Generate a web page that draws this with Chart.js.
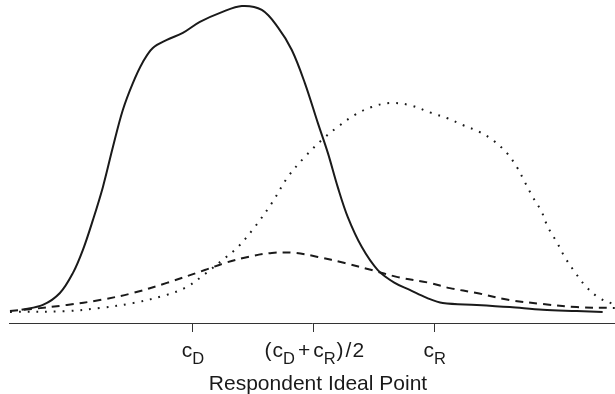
<!DOCTYPE html>
<html>
<head>
<meta charset="utf-8">
<script src="https://cdn.jsdelivr.net/npm/chart.js@4/dist/chart.umd.min.js"></script>
<style>
  body { margin: 0; background: #fff; }
  #densChart { display: block; }
</style>
</head>
<body>
<canvas id="densChart" width="615" height="394"></canvas>
<script>
// x in units where c_D = -1, midpoint = 0, c_R = 1
const solidX = [-2.416,-2.240,-2.099,-1.992,-1.909,-1.826,-1.744,-1.661,-1.579,-1.496,-1.413,-1.331,-1.215,-1.083,-0.942,-0.760,-0.595,-0.430,-0.298,-0.182,-0.074,0.033,0.116,0.198,0.281,0.397,0.529,0.669,0.793,0.934,1.066,1.347,1.620,1.893,2.174,2.388];
const solidY = [0.007,0.023,0.062,0.127,0.203,0.301,0.408,0.539,0.660,0.748,0.817,0.863,0.889,0.912,0.948,0.980,1.000,0.987,0.931,0.856,0.748,0.618,0.520,0.408,0.310,0.212,0.137,0.095,0.072,0.046,0.029,0.023,0.016,0.007,0.003,0.0];

const dashedX = [-2.512,-2.322,-2.041,-1.769,-1.496,-1.215,-0.901,-0.736,-0.545,-0.347,-0.157,0.033,0.256,0.479,0.694,0.959,1.124,1.347,1.620,1.893,2.174,2.488];
const dashedY = [0.003,0.010,0.023,0.039,0.062,0.095,0.137,0.160,0.180,0.193,0.193,0.180,0.160,0.137,0.114,0.095,0.078,0.062,0.039,0.026,0.016,0.013];

const dottedX = [-2.512,-2.041,-1.769,-1.496,-1.215,-1.050,-0.901,-0.736,-0.628,-0.488,-0.347,-0.215,-0.074,0.066,0.198,0.339,0.479,0.628,0.793,0.975,1.099,1.231,1.372,1.479,1.595,1.678,1.744,1.810,1.884,1.934,2.008,2.074,2.157,2.240,2.347,2.471];
const dottedY = [0,0.003,0.013,0.029,0.056,0.082,0.124,0.176,0.212,0.278,0.356,0.441,0.507,0.562,0.605,0.644,0.670,0.683,0.676,0.650,0.634,0.611,0.588,0.562,0.520,0.474,0.425,0.376,0.327,0.278,0.229,0.180,0.131,0.088,0.049,0.026];

const tickValues = [-1, 0, 1];
const tickLabels = ['c_D', '(c_D + c_R)/2', 'c_R'];
const axisTitle = 'Respondent Ideal Point';

const INK = '#1a1a1a';
const MAIN_FONT = '21px "Liberation Sans", Arial, sans-serif';
const SUB_FONT = '16.5px "Liberation Sans", Arial, sans-serif';

function toPoints(xs, ys) { return xs.map((x, i) => ({ x: x, y: ys[i] })); }

// split "c_D + c_R" into pieces: normal text, subscripts and a spaced plus
function parseLabel(str) {
  const parts = [];
  let i = 0;
  while (i < str.length) {
    if (str[i] === '_') { parts.push({ t: str[i + 1], sub: true }); i += 2; }
    else if (str.substr(i, 3) === ' + ') { parts.push({ t: '+', sub: false, pad: 3 }); i += 3; }
    else if (str[i] === '(' || str[i] === ')' || str[i] === '/') { parts.push({ t: str[i], sub: false, pad: 1 }); i += 1; }
    else { parts.push({ t: str[i], sub: false }); i += 1; }
  }
  return parts;
}

function drawLabel(ctx, str, cx, baseline) {
  const parts = parseLabel(str);
  let total = 0;
  for (const p of parts) {
    ctx.font = p.sub ? SUB_FONT : MAIN_FONT;
    p.w = ctx.measureText(p.t).width + (p.pad || 0) * 2;
    total += p.w;
  }
  let x = cx - total / 2;
  for (const p of parts) {
    ctx.font = p.sub ? SUB_FONT : MAIN_FONT;
    ctx.fillText(p.t, x + (p.pad || 0), p.sub ? baseline + 7 : baseline);
    x += p.w;
  }
}

const labelPlugin = {
  id: 'labelPlugin',
  afterDraw(chart) {
    const ctx = chart.ctx;
    const xs = chart.scales.x;
    ctx.save();
    ctx.fillStyle = INK;
    ctx.textAlign = 'left';
    ctx.textBaseline = 'alphabetic';
    tickValues.forEach((v, i) => drawLabel(ctx, tickLabels[i], xs.getPixelForValue(v), 357));
    ctx.font = MAIN_FONT;
    ctx.textAlign = 'center';
    ctx.fillText(axisTitle, 318, 390);
    ctx.restore();
  }
};

const lineStyle = { showLine: true, borderColor: INK, borderWidth: 2, pointRadius: 0, tension: 0.35 };

new Chart(document.getElementById('densChart').getContext('2d'), {
  type: 'scatter',
  data: {
    datasets: [
      Object.assign({ label: 'dotted', data: toPoints(dottedX, dottedY), borderDash: [1.8, 7] }, lineStyle),
      Object.assign({ label: 'dashed', data: toPoints(dashedX, dashedY), borderDash: [8, 6] }, lineStyle),
      Object.assign({ label: 'solid', data: toPoints(solidX, solidY) }, lineStyle)
    ]
  },
  options: {
    responsive: false,
    animation: false,
    layout: { padding: { left: 9, right: 0, top: 0, bottom: 62 } },
    plugins: { legend: { display: false }, tooltip: { enabled: false } },
    scales: {
      x: {
        type: 'linear', min: -2.52, max: 2.49,
        afterBuildTicks: scale => { scale.ticks = tickValues.map(v => ({ value: v })); },
        ticks: { display: false },
        grid: { drawOnChartArea: false, drawTicks: true, tickLength: 9, color: '#333', lineWidth: 1 },
        border: { display: true, color: '#333', width: 1 }
      },
      y: { display: false, min: -0.036, max: 1.0196 }
    }
  },
  plugins: [labelPlugin]
});
</script>
</body>
</html>
